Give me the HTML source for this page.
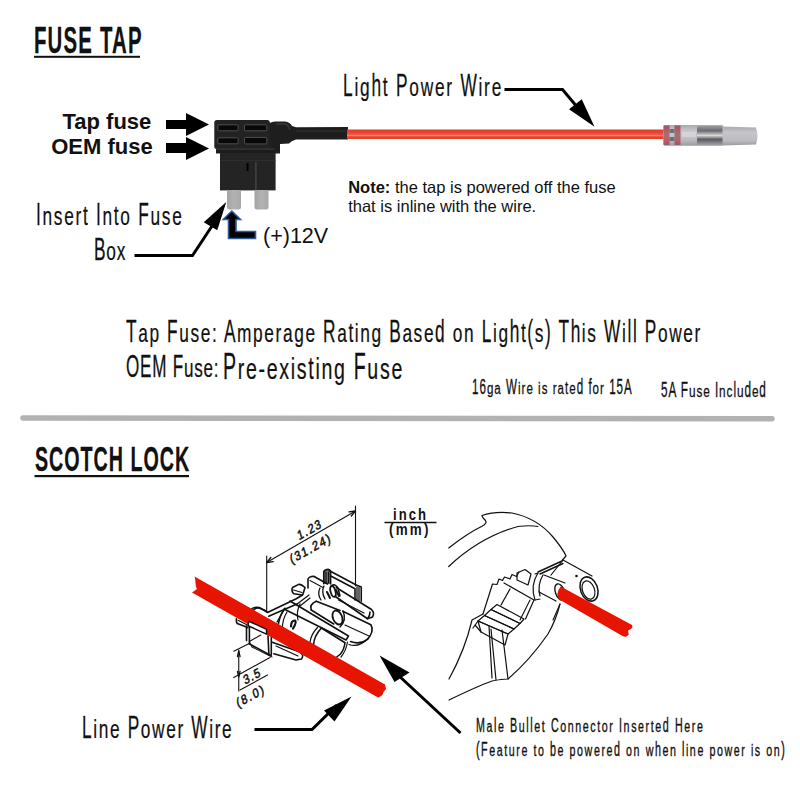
<!DOCTYPE html>
<html><head><meta charset="utf-8">
<style>
html,body{margin:0;padding:0;background:#fff;}
body{width:800px;height:800px;position:relative;overflow:hidden;font-family:"Liberation Sans",sans-serif;color:#111;}
.t{position:absolute;white-space:nowrap;line-height:1;transform-origin:0 0;}
.b{font-weight:bold;}
.y{display:inline-block;}
.c{transform:scaleX(0.54);-webkit-text-stroke:0.3px #111;}
svg{position:absolute;left:0;top:0;}
</style></head>
<body>
<svg width="800" height="800" viewBox="0 0 800 800">
  <!-- separator -->
  <line x1="23" y1="418" x2="772" y2="418.8" stroke="#b2b2b2" stroke-width="5.5" stroke-linecap="round"/>
  <!-- title underlines -->
  <rect x="34" y="55.8" width="106" height="2" fill="#111"/>
  <rect x="34.5" y="475" width="154.5" height="2.2" fill="#111"/>

  <!-- fuse arrows -->
  <polygon points="166,120 186,120 186,113 209,124.5 186,136 186,129 166,129" fill="#000"/>
  <polygon points="166,143 186,143 186,137 209,148.5 186,160 186,153 166,153" fill="#000"/>

  <!-- fuse tap body -->
  <g id="fuse">
    <!-- boot & sleeve -->
    <path d="M268,124 Q270,122 276,121.5 L285,121.5 Q290,122 292,126 L296,127.2 L348,127 L348,139.5 L296,139.5 Q291,141 289,143.5 L280,144 L280,153.5 L268,153.5 Z" fill="#1e1e1e"/>
    <path d="M276,124 L286,124 Q289,126 290,130" fill="none" stroke="#3a3a3a" stroke-width="1.5"/>
    <path d="M296,131 L346,131" stroke="#333" stroke-width="1.2"/>
    <rect x="214.3" y="120" width="55.5" height="29" rx="2.5" fill="#222"/>
    <rect x="216" y="148.5" width="58.5" height="5" fill="#1c1c1c"/>
    <rect x="216" y="148.6" width="58.5" height="0.9" fill="#444"/>
    <rect x="220" y="153" width="55.6" height="37.4" fill="#242424"/>
    <rect x="220" y="160" width="55.6" height="0.8" fill="#333"/>
    <rect x="255.3" y="162" width="1.2" height="28" fill="#4a4a4a"/>
    <rect x="246.5" y="163" width="2" height="8" fill="#000"/>
    <g fill="#080808" stroke="#5e5e5e" stroke-width="0.8">
      <rect x="217.8" y="124.8" width="20.3" height="6" rx="1"/>
      <rect x="244.5" y="124.8" width="22.3" height="6" rx="1"/>
      <rect x="217.8" y="137.8" width="20.3" height="6" rx="1"/>
      <rect x="244.5" y="137.4" width="22.3" height="6.5" rx="1"/>
    </g>
    <!-- blades -->
    <defs><linearGradient id="bl" x1="0" y1="0" x2="1" y2="0"><stop offset="0" stop-color="#a4a4a4"/><stop offset="0.5" stop-color="#b2b2b2"/><stop offset="1" stop-color="#a8a8a8"/></linearGradient></defs>
    <path d="M227,190 L241,190 L241,207 Q241,209.5 238.5,209.5 L229.5,209.5 Q227,209.5 227,207 Z" fill="url(#bl)"/>
    <path d="M254.5,190 L268.5,190 L268.5,207 Q268.5,209.5 266,209.5 L257,209.5 Q254.5,209.5 254.5,207 Z" fill="url(#bl)"/>
  </g>
  <!-- red wire top -->
  <defs>
    <linearGradient id="rw" x1="0" y1="0" x2="0" y2="1">
      <stop offset="0" stop-color="#d8402e"/>
      <stop offset="0.35" stop-color="#ee4230"/>
      <stop offset="0.55" stop-color="#f0604c"/>
      <stop offset="0.65" stop-color="#f38a78"/>
      <stop offset="0.75" stop-color="#ec4a36"/>
      <stop offset="1" stop-color="#de3a28"/>
    </linearGradient>
    <linearGradient id="bc" x1="0" y1="0" x2="0" y2="1">
      <stop offset="0" stop-color="#b9b9c0"/>
      <stop offset="0.5" stop-color="#e6e6e6"/>
      <stop offset="1" stop-color="#a9a9b0"/>
    </linearGradient>
  </defs>
  <rect x="347" y="129.5" width="318" height="9.5" fill="url(#rw)"/>
  <!-- bullet connector -->
  <defs>
    <linearGradient id="cg1" x1="0" y1="0" x2="0" y2="1">
      <stop offset="0" stop-color="#a8a8b0"/><stop offset="0.3" stop-color="#c8c8cc"/><stop offset="0.7" stop-color="#bdbdc2"/><stop offset="1" stop-color="#9c9ca4"/>
    </linearGradient>
    <linearGradient id="cg2" x1="0" y1="0" x2="0" y2="1">
      <stop offset="0" stop-color="#9a9aa0"/><stop offset="0.25" stop-color="#6a6a70"/><stop offset="0.5" stop-color="#d8d8d8"/><stop offset="0.7" stop-color="#5a5a60"/><stop offset="1" stop-color="#a0a0a8"/>
    </linearGradient>
    <linearGradient id="cg3" x1="0" y1="0" x2="0" y2="1">
      <stop offset="0" stop-color="#a4a4ac"/><stop offset="0.35" stop-color="#c6c6ca"/><stop offset="0.75" stop-color="#bbbbc0"/><stop offset="1" stop-color="#9a9aa2"/>
    </linearGradient>
    <linearGradient id="cg4" x1="0" y1="0" x2="0" y2="1">
      <stop offset="0" stop-color="#8c6068"/><stop offset="0.3" stop-color="#c05868"/><stop offset="0.5" stop-color="#8a7a7e"/><stop offset="0.7" stop-color="#c85a6a"/><stop offset="1" stop-color="#906068"/>
    </linearGradient>
  </defs>
  <path d="M664,125.5 Q663,135 664,145.5 L722,145.5 L756,144.5 Q759,136 756,127.5 L722,126.5 Z" fill="url(#cg3)"/>
  <rect x="663.5" y="125" width="60" height="20.5" rx="1.5" fill="url(#cg1)"/>
  <rect x="663.5" y="125.5" width="6" height="19.5" fill="url(#cg4)"/>
  <rect x="674.5" y="125.5" width="6" height="19.5" fill="url(#cg4)"/>
  <rect x="669.5" y="129" width="5" height="4" fill="#707074"/><rect x="669.5" y="137" width="5" height="4" fill="#707074"/>
  <rect x="697" y="126" width="25.5" height="19" rx="2" fill="url(#cg2)"/>
  <rect x="682" y="132" width="14" height="5" fill="#e0e0e0" opacity="0.6"/>
  <!-- light power wire arrow -->
  <polyline points="504.5,89.5 562.5,89.5 578,108" fill="none" stroke="#000" stroke-width="3"/>
  <polygon points="594.5,126.7 569,109.3 581.75,99.25" fill="#000"/>

  <!-- insert arrow -->
  <polyline points="134.5,255.5 192.5,255.5 212,226" fill="none" stroke="#000" stroke-width="3"/>
  <polygon points="226.25,202 203.75,222.25 217.25,230.2" fill="#000"/>

  <!-- blue L arrow -->
  <path d="M231.8,211 L240.5,219.5 L236,219.5 L236,231.5 L255.5,231.5 L255.5,238.5 L228.5,238.5 L228.5,219.5 L223.25,219.5 Z" fill="#000" stroke="#2e5c9c" stroke-width="1.6"/>

  <!-- bottom arrows -->
  <polyline points="254.5,729.5 312,729.5 337,705" fill="none" stroke="#000" stroke-width="3"/>
  <polygon points="351.6,696.4 324,710.5 334.5,721.6" fill="#000"/>
  <line x1="460.5" y1="733" x2="398" y2="675" stroke="#000" stroke-width="3"/>
  <polygon points="379.5,655.6 394.5,682 409.5,672.4" fill="#000"/>

  <!-- scotch lock drawing -->
  <g fill="none" stroke="#111" stroke-width="1.1" stroke-linejoin="round" stroke-linecap="round">
    <!-- dimension lines top -->
    <path d="M355.5,506 L355.5,586"/>
    <path d="M266.7,556 L266.7,612"/>
    <path d="M266.7,562.5 L355.5,511"/>
    <path d="M266.7,562.5 l6.5,-0.8 M266.7,562.5 l4.2,-5 M355.5,511 l-6.5,0.8 M355.5,511 l-4.2,5" stroke-width="1.3"/>
    <!-- dimension bottom-left -->
    <path d="M238.75,650 L238.75,691"/>
    <path d="M233.75,651.25 L248.75,643.75"/>
    <path d="M233.75,677.5 L270,657.5"/>
    <path d="M240,690 L267.5,675"/>
    <path d="M238.75,651 l-1.3,5.5 M238.75,651 l1.3,5.5 M238.75,677 l-1.3,-5.5 M238.75,677 l1.3,-5.5" stroke-width="1.3"/>
  </g>
  <g fill="none" stroke="#111" stroke-width="1.6" stroke-linejoin="round" stroke-linecap="round">
    <!-- fence / post -->
    <path d="M323.75,583.75 L323.75,571.5 Q325,569.3 328,569.4 Q330.6,570 330.6,572 L330.6,584" fill="#777"/>
    <path d="M326,572 L326,583 M328.5,572 L328.5,583" stroke-width="1.2"/>
    <path d="M330,571 L356.25,585 L361.25,586.9 L361.25,601.25"/>
    <path d="M331.25,576.25 L355,588.75 L355,600"/>
    <!-- tabs -->
    <path d="M302.5,595 L293.75,593.75 Q291,591 292.5,587.5 L298.75,584.4 Q301,584 305,587.5 L303,594"/>
    <path d="M293.5,590 L302,592.5" stroke-width="1.1"/>
    <path d="M308,588 L308,579 Q309,576.5 313.75,576.25 L327.5,584"/>
    <path d="M310,580.5 L323,587.5" stroke-width="1.1"/>
    <!-- upper detail -->
    <path d="M320,588 Q317,594 321,600 M324,586 Q321,592 325,599" stroke-width="1.3"/>
    <ellipse cx="333" cy="591.5" rx="2.4" ry="5.5" transform="rotate(-15 333 591.5)" stroke-width="1.8"/>
    <path d="M327,592 L330,598 M336,590 L339,596" stroke-width="2"/>
    <!-- back rail right -->
    <path d="M336.25,587.5 L371.5,609.5 Q375,613 372.5,617 L367.5,618.75"/>
    <path d="M335,596.25 L367.5,618.75 Q370,616 370,612"/>
    <!-- housing diag lines -->
    <path d="M267.5,612.5 L296.25,598.75 L302.5,595"/>
    <path d="M268.75,616.25 L297.5,603.75"/>
    <path d="M297.5,603.75 L309,595 M300,606 L310,598" stroke-width="1.2"/>
    <!-- middle cylinder -->
    <path d="M316.25,601.25 L340,610.5 M311.25,610 L333.75,624" />
    <path d="M316.25,601.25 Q309,604.5 311.25,610"/>
    <ellipse cx="337.5" cy="617.5" rx="4.6" ry="7.3" transform="rotate(-22 337.5 617.5)" stroke-width="1.8"/>
    <path d="M343,611 Q347,620 340,627" stroke-width="1.4"/>
    <!-- front rail -->
    <path d="M290,601 L348.5,636 L346,640 L284,609"/>
    <!-- right half cylinder -->
    <path d="M342.75,611.25 L370.9,624.75 Q374.5,631 367.5,639.4 Q360,645 350.6,641.6"/>
    <path d="M349,644.5 Q359,648 368.5,638" stroke-width="1.3"/>
    <!-- lower front half cylinder -->
    <path d="M321.4,628 L345,642.75 Q344,650 340.5,654 L334.9,658.5"/>
    <path d="M321.4,628 Q314,636 313.5,645"/>
    <path d="M317.5,627.5 Q311,634 310,642.5" stroke-width="1.3"/>
    <!-- front left half cyl arcs -->
    <path d="M283.75,610 Q279.5,616 278,626"/>
    <path d="M291,626.5 Q291,620.5 295,620.5 Q297,622 293,628.5" stroke-width="2.2"/>
    <!-- top bump above wire -->
    <path d="M251,609.5 Q254,606.5 259,607.5 L266,611"/>
        <!-- extra density -->
    <path d="M287,612 Q282,620 282.5,629" stroke-width="1.2"/>
    <path d="M347.5,642 Q346,651 341,657" stroke-width="1.2"/>
    <path d="M345,625 L369,636" stroke-width="1.2"/>
    <path d="M338.5,600 L364,613" stroke-width="1.2"/>
    <path d="M357,587 L357,600 M359,587.5 L359,601" stroke-width="1.3"/>
    <path d="M331,586 Q335,583 338,588 L340,596" stroke-width="1.5"/>
    <path d="M250,643 L252,647 L272,657" stroke-width="1.1"/>
    <path d="M300,604 Q296,612 298,620" stroke-width="1.2"/>
    <!-- front clip box -->
    <path d="M236.4,618.7 Q236,622 237.2,623.6 L247.8,627.6"/>
    <path d="M238,620.3 L249.4,626" stroke-width="1.2"/>
    <path d="M246.5,626 L246.5,640.6 M249.4,626.8 L249.4,643.9"/>
    <path d="M268,635.8 L268.9,654.5 M271.3,637.4 L271.3,655.3"/>
    <path d="M249.4,643.9 L270.5,655.3"/>
    <path d="M249.4,641.5 L260.8,635" stroke-width="1.1"/>
    <path d="M272.2,642.3 L300,652 Q304.5,655 301.5,659 L296,660 L273.8,653.7"/>
    <path d="M276,646 L298,656" stroke-width="1.2"/>
    <path d="M253.5,609.8 Q257.5,606 263.2,609.8 L267.3,612.2"/>
    <path d="M285,608 Q280.3,616.3 277,622" stroke-width="1.3"/>
  </g>
  <g font-family="Liberation Sans" font-size="12.5" fill="#111" stroke="#111" stroke-width="0.55" text-anchor="middle">
    <text transform="translate(311,533.5) rotate(-29) skewX(-12) scale(0.9,1)" letter-spacing="1.6">1.23</text>
    <text transform="translate(312,552.5) rotate(-29) skewX(-12) scale(0.9,1)" letter-spacing="1.8">(31.24)</text>
    <text transform="translate(253.5,680) rotate(-29) skewX(-12) scale(0.9,1)" letter-spacing="1.5">3.5</text>
    <text transform="translate(252,700) rotate(-29) skewX(-12) scale(0.9,1)" letter-spacing="2">(8.0)</text>
  </g>
  <line x1="384.5" y1="522.5" x2="436.5" y2="522.5" stroke="#111" stroke-width="1.5"/>
  <path d="M194.5,576.5 C196,581 195,586 197,589 L192,592.5 L378,697.5 Q383,696 383.5,692 L386,689 L385,684.5 Z" fill="#e61400"/>
  <path d="M249.4,621.5 L266.5,629.3 L266.5,634.1 L248.6,626 Q247.5,623 249.4,621.5 Z" fill="#fff" stroke="#111" stroke-width="1.4" stroke-linejoin="round"/>

  <!-- right drawing -->
  <g fill="none" stroke="#111" stroke-width="1.2" stroke-linejoin="round" stroke-linecap="round">
    <path d="M448.75,548 Q468,533 482,526.3 Q488,523 485,520 Q482,517 482,515.5 Q495,511 512,513 Q537,518 553,537 Q563,549 566,556 L562.5,560"/>
    <path d="M448.75,566.5 Q480,537 518,526.5 Q530,525 538,526.5"/>
    <path d="M449,679 Q465,650 472,620 L483,614"/>
    <path d="M449,700 Q478,686 492,681 Q502,679 508,679 Q530,660 548,634 Q556,620 560,604"/>
    <path d="M489,626 L492,678 M491,629 L496,680 M502,630 L508,679"/>
    <!-- stair steps -->
    <path d="M483,614 L492.5,584 L497,584.5 L499,579 L502.5,580.5 L504.5,577 L510,579 L512,574.5 L516.5,576.5 L519,572"/>
    <path d="M517,573 L525,569.5 L531,574 L528,585 L517,580 Z"/>
    <path d="M504,583 L534,600 L525.5,619"/>
    <path d="M510,589 L501,605"/>
    <!-- ribs -->
    <path d="M497,604.5 L524,619 L520,623.5 L491,609.5 Z"/>
    <path d="M491,609.5 L520,623.5 L514,629 L484.5,615.5 Z"/>
    <path d="M484.5,615.5 L514,629 L508,634 L478,621 Z"/>
    <path d="M478,621 L508,634 L505,645 L481,632 Z"/>
    <path d="M475,625 L481,632 M478,621 L473,628"/>
    <!-- flange -->
    <path d="M538,573 Q530,585 535,600"/>
    <path d="M543,575 Q537,585 540,596"/>
    <path d="M535,574 L538,573 M535,600 L540,599"/>
    <!-- hatched top line -->
    <path d="M538,572 L562,561 M540,574 L563,563.5" stroke-width="1.4"/>
    <!-- inner cylinder -->
    <path d="M544,575 L565,583 M539,592 L556,601"/>
    <ellipse cx="560" cy="592" rx="4.6" ry="8.5" transform="rotate(-20 560 592)" stroke-width="1.4"/>
    <!-- outer cylinder -->
    <path d="M563,560 L592,576"/>
    <path d="M563,560 L551,575"/>
    <ellipse cx="589" cy="589" rx="8.5" ry="12.5" transform="rotate(-20 589 589)" stroke-width="1.5"/>
    <ellipse cx="588.5" cy="590" rx="6" ry="9.5" transform="rotate(-20 588.5 590)" stroke-width="1.2"/>
    <path d="M530,600 L520,620 M560,604 L553,620" stroke-width="1.1"/>
    <circle cx="576.5" cy="576" r="0.7" fill="#111"/>
  </g>
  <path d="M560.6,586.5 L632,625 Q634,628 628,630.5 L628.7,634.6 Q627,638 622.5,636 L559.3,599.6 Q555,594 560.6,586.5 Z" fill="#e61400"/>
</svg>

<div class="t b" style="font-size:36.4px;left:33.5px;top:23.4px;transform:scaleX(0.56);letter-spacing:2.1px;-webkit-text-stroke:0.3px #111">FUSE TAP</div>
<div class="t b" style="font-size:22px;left:62.5px;top:110.6px;">Tap fuse</div>
<div class="t b" style="font-size:22px;left:51.2px;top:135.9px;">OEM fuse</div>
<div class="t c" style="font-size:32px;left:343.3px;top:68.9px;letter-spacing:3.29px">L<span class="y" style="transform:scaleY(0.787);transform-origin:0 27.09px">ig</span>h<span class="y" style="transform:scaleY(0.87);transform-origin:0 27.09px">t</span> P<span class="y" style="transform:scaleY(0.787);transform-origin:0 27.09px">ower</span> W<span class="y" style="transform:scaleY(0.787);transform-origin:0 27.09px">ire</span></div>
<div class="t" style="font-size:16.5px;left:348.2px;top:179px;"><b>Note:</b> the tap is powered off the fuse</div>
<div class="t" style="font-size:16.5px;left:348.2px;top:198px;">that is inline with the wire.</div>
<div class="t c" style="font-size:32px;left:36.2px;top:197.9px;letter-spacing:3.17px">I<span class="y" style="transform:scaleY(0.787);transform-origin:0 27.09px">nser</span><span class="y" style="transform:scaleY(0.87);transform-origin:0 27.09px">t</span> I<span class="y" style="transform:scaleY(0.787);transform-origin:0 27.09px">n</span><span class="y" style="transform:scaleY(0.87);transform-origin:0 27.09px">t</span><span class="y" style="transform:scaleY(0.787);transform-origin:0 27.09px">o</span> F<span class="y" style="transform:scaleY(0.787);transform-origin:0 27.09px">use</span></div>
<div class="t c" style="font-size:32px;left:93.5px;top:233.4px;letter-spacing:1.41px">B<span class="y" style="transform:scaleY(0.787);transform-origin:0 27.09px">ox</span></div>
<div class="t" style="font-size:21.5px;left:263px;top:225.8px;">(+)12V</div>
<div class="t c" style="font-size:32px;left:125.5px;top:315.4px;letter-spacing:3.01px">T<span class="y" style="transform:scaleY(0.787);transform-origin:0 27.09px">ap</span> F<span class="y" style="transform:scaleY(0.787);transform-origin:0 27.09px">use:</span> A<span class="y" style="transform:scaleY(0.787);transform-origin:0 27.09px">mperage</span> R<span class="y" style="transform:scaleY(0.787);transform-origin:0 27.09px">a</span><span class="y" style="transform:scaleY(0.87);transform-origin:0 27.09px">t</span><span class="y" style="transform:scaleY(0.787);transform-origin:0 27.09px">ing</span> B<span class="y" style="transform:scaleY(0.787);transform-origin:0 27.09px">ase</span>d <span class="y" style="transform:scaleY(0.787);transform-origin:0 27.09px">on</span> L<span class="y" style="transform:scaleY(0.787);transform-origin:0 27.09px">ig</span>h<span class="y" style="transform:scaleY(0.87);transform-origin:0 27.09px">t</span>(<span class="y" style="transform:scaleY(0.787);transform-origin:0 27.09px">s</span>) Th<span class="y" style="transform:scaleY(0.787);transform-origin:0 27.09px">is</span> W<span class="y" style="transform:scaleY(0.787);transform-origin:0 27.09px">i</span>ll P<span class="y" style="transform:scaleY(0.787);transform-origin:0 27.09px">ower</span></div>
<div class="t c" style="font-size:31.6px;left:125.5px;top:351.3px;letter-spacing:1.44px">OEM F<span class="y" style="transform:scaleY(0.787);transform-origin:0 26.75px">use:</span></div>
<div class="t c" style="font-size:36.3px;left:222.5px;top:349.3px;letter-spacing:3.1px">P<span class="y" style="transform:scaleY(0.787);transform-origin:0 30.73px">re-exis</span><span class="y" style="transform:scaleY(0.87);transform-origin:0 30.73px">t</span><span class="y" style="transform:scaleY(0.787);transform-origin:0 30.73px">ing</span> F<span class="y" style="transform:scaleY(0.787);transform-origin:0 30.73px">use</span></div>
<div class="t c" style="font-size:21.4px;left:471.5px;top:376.6px;letter-spacing:1.89px;-webkit-text-stroke:0.35px #111">16<span class="y" style="transform:scaleY(0.787);transform-origin:0 18.12px">ga</span> W<span class="y" style="transform:scaleY(0.787);transform-origin:0 18.12px">ire</span> <span class="y" style="transform:scaleY(0.787);transform-origin:0 18.12px">is</span> <span class="y" style="transform:scaleY(0.787);transform-origin:0 18.12px">ra</span><span class="y" style="transform:scaleY(0.87);transform-origin:0 18.12px">t</span><span class="y" style="transform:scaleY(0.787);transform-origin:0 18.12px">e</span>d f<span class="y" style="transform:scaleY(0.787);transform-origin:0 18.12px">or</span> 15A</div>
<div class="t c" style="font-size:21.8px;left:661.4px;top:378.5px;letter-spacing:1.72px;-webkit-text-stroke:0.35px #111">5A F<span class="y" style="transform:scaleY(0.787);transform-origin:0 18.45px">use</span> I<span class="y" style="transform:scaleY(0.787);transform-origin:0 18.45px">nc</span>l<span class="y" style="transform:scaleY(0.787);transform-origin:0 18.45px">u</span>d<span class="y" style="transform:scaleY(0.787);transform-origin:0 18.45px">e</span>d</div>
<div class="t b" style="font-size:35.2px;left:34.6px;top:440.8px;transform:scaleX(0.56);letter-spacing:1.72px;-webkit-text-stroke:0.3px #111">SCOTCH LOCK</div>
<div class="t b" style="font-size:15.6px;left:393px;top:507px;letter-spacing:2.4px;transform:scaleX(0.84)">inch</div>
<div class="t b" style="font-size:15.6px;left:389px;top:522.3px;letter-spacing:2.6px;transform:scaleX(0.86)">(mm)</div>
<div class="t c" style="font-size:32px;left:82px;top:710.9px;letter-spacing:3.03px">L<span class="y" style="transform:scaleY(0.787);transform-origin:0 27.09px">ine</span> P<span class="y" style="transform:scaleY(0.787);transform-origin:0 27.09px">ower</span> W<span class="y" style="transform:scaleY(0.787);transform-origin:0 27.09px">ire</span></div>
<div class="t c" style="font-size:19.8px;left:476px;top:716.2px;letter-spacing:2.94px;-webkit-text-stroke:0.4px #111">M<span class="y" style="transform:scaleY(0.787);transform-origin:0 16.76px">a</span>l<span class="y" style="transform:scaleY(0.787);transform-origin:0 16.76px">e</span> B<span class="y" style="transform:scaleY(0.787);transform-origin:0 16.76px">u</span>ll<span class="y" style="transform:scaleY(0.787);transform-origin:0 16.76px">e</span><span class="y" style="transform:scaleY(0.87);transform-origin:0 16.76px">t</span> C<span class="y" style="transform:scaleY(0.787);transform-origin:0 16.76px">onnec</span><span class="y" style="transform:scaleY(0.87);transform-origin:0 16.76px">t</span><span class="y" style="transform:scaleY(0.787);transform-origin:0 16.76px">or</span> I<span class="y" style="transform:scaleY(0.787);transform-origin:0 16.76px">nser</span><span class="y" style="transform:scaleY(0.87);transform-origin:0 16.76px">t</span><span class="y" style="transform:scaleY(0.787);transform-origin:0 16.76px">e</span>d H<span class="y" style="transform:scaleY(0.787);transform-origin:0 16.76px">ere</span></div>
<div class="t c" style="font-size:19.8px;left:476px;top:740.4px;letter-spacing:2.9px;-webkit-text-stroke:0.4px #111">(F<span class="y" style="transform:scaleY(0.787);transform-origin:0 16.76px">ea</span><span class="y" style="transform:scaleY(0.87);transform-origin:0 16.76px">t</span><span class="y" style="transform:scaleY(0.787);transform-origin:0 16.76px">ure</span> <span class="y" style="transform:scaleY(0.87);transform-origin:0 16.76px">t</span><span class="y" style="transform:scaleY(0.787);transform-origin:0 16.76px">o</span> b<span class="y" style="transform:scaleY(0.787);transform-origin:0 16.76px">e</span> <span class="y" style="transform:scaleY(0.787);transform-origin:0 16.76px">powere</span>d <span class="y" style="transform:scaleY(0.787);transform-origin:0 16.76px">on</span> <span class="y" style="transform:scaleY(0.787);transform-origin:0 16.76px">w</span>h<span class="y" style="transform:scaleY(0.787);transform-origin:0 16.76px">en</span> l<span class="y" style="transform:scaleY(0.787);transform-origin:0 16.76px">ine</span> <span class="y" style="transform:scaleY(0.787);transform-origin:0 16.76px">power</span> <span class="y" style="transform:scaleY(0.787);transform-origin:0 16.76px">is</span> <span class="y" style="transform:scaleY(0.787);transform-origin:0 16.76px">on</span>)</div>
</body></html>
